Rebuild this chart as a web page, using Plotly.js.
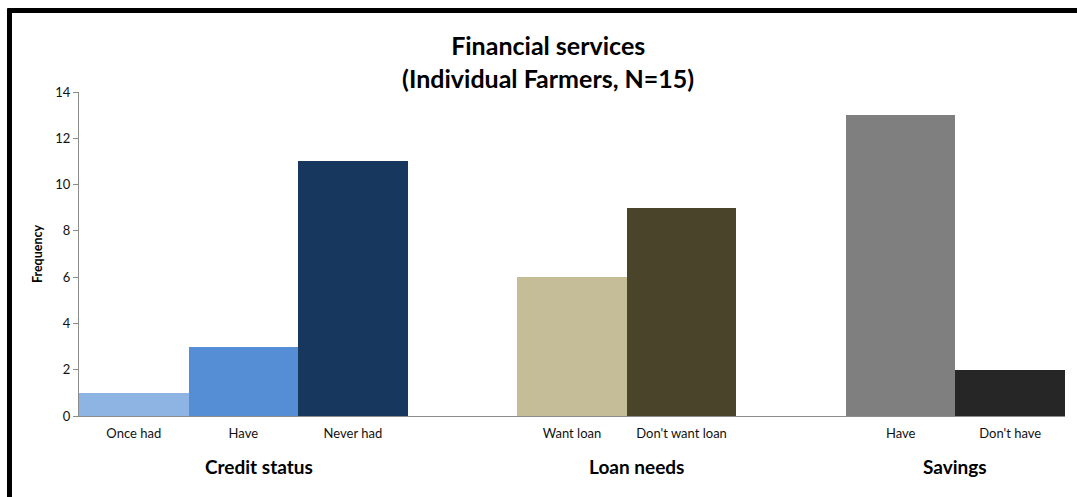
<!DOCTYPE html>
<html>
<head>
<meta charset="utf-8">
<script src="https://cdn.plot.ly/plotly-3.0.1.min.js"></script>
<style>
html,body{margin:0;padding:0;background:#fff;}
#chart{width:1077px;height:497px;}
</style>
</head>
<body>
<div id="chart"></div>
<script>
// ---- data ----
const groups = ["Credit status", "Loan needs", "Savings"];
const creditLabels = ["Once had", "Have", "Never had"];
const creditValues = [1, 3, 11];
const loanLabels = ["Want loan", "Don't want loan"];
const loanValues = [6, 9];
const savingsLabels = ["Have", "Don't have"];
const savingsValues = [13, 2];
const yTicks = [0, 2, 4, 6, 8, 10, 12, 14];

// ---- styling ----
const creditColors = ["#8EB4E3", "#558ED5", "#17375E"];
const loanColors = ["#C4BD97", "#4A452A"];
const savingsColors = ["#7F7F7F", "#262626"];
const groupShift = [0.14, 0.09, 0.0];

const groupData = [
  {labels: creditLabels, values: creditValues, colors: creditColors},
  {labels: loanLabels, values: loanValues, colors: loanColors},
  {labels: savingsLabels, values: savingsValues, colors: savingsColors}
];

const traces = [];
const tickvals = [], ticktext = [];
const annotations = [];
let pos = 0;
groupData.forEach((g, gi) => {
  const xs = g.labels.map((_, i) => pos + i);
  traces.push({
    type: 'bar',
    x: xs,
    y: g.values,
    width: 1,
    marker: {color: g.colors, line: {width: 0}},
    hoverinfo: 'y',
    showlegend: false
  });
  xs.forEach((x, i) => { tickvals.push(x); ticktext.push(g.labels[i]); });
  const center = (xs[0] + xs[xs.length - 1]) / 2 + groupShift[gi];
  annotations.push({
    xref: 'x', yref: 'paper', x: center, y: -0.155,
    text: '<b>' + groups[gi] + '</b>', showarrow: false,
    font: {family: 'Lato, "Open Sans", sans-serif', size: 19, color: '#000'},
    xanchor: 'center', yanchor: 'middle'
  });
  pos += g.labels.length + 1;
});

const layout = {
  width: 1077, height: 497,
  margin: {l: 79, r: 12, t: 92, b: 81},
  paper_bgcolor: '#fff', plot_bgcolor: '#fff',
  font: {family: 'Lato, "Open Sans", sans-serif', color: '#000'},
  title: {
    text: '<b>Financial services<br>(Individual Farmers, N=15)</b>',
    font: {family: 'Lato, "Open Sans", sans-serif', size: 25, color: '#000'},
    x: 0.509, xanchor: 'center', xref: 'container',
    y: 0.889, yanchor: 'middle', yref: 'container'
  },
  bargap: 0,
  xaxis: {
    range: [-0.5, pos - 1.5],
    tickmode: 'array', tickvals: tickvals, ticktext: ticktext,
    tickfont: {size: 13, color: '#111'},
    showgrid: false, zeroline: false,
    showline: true, linecolor: '#8C8C8C', linewidth: 1,
    ticks: '', ticklabelstandoff: 5,
    fixedrange: true
  },
  yaxis: {
    range: [0, 14],
    tickmode: 'array', tickvals: yTicks,
    tickfont: {size: 13, color: '#111'},
    showgrid: false, zeroline: false,
    showline: true, linecolor: '#8C8C8C', linewidth: 1,
    ticks: 'outside', ticklen: 5, tickcolor: '#8C8C8C',
    title: {text: '<b>Frequency</b>', font: {size: 12.5, color: '#000'}, standoff: 9},
    fixedrange: true
  },
  annotations: annotations,
  shapes: [
    {type: 'line', xref: 'paper', yref: 'paper', x0: -0.0725, x1: 1.05, y0: 1.2515, y1: 1.2515,
     line: {color: '#000', width: 5}},
    {type: 'line', xref: 'paper', yref: 'paper', x0: -0.0705, x1: -0.0705, y0: 1.258, y1: -0.3,
     line: {color: '#000', width: 5}}
  ]
};

Plotly.newPlot('chart', traces, layout, {displayModeBar: false, staticPlot: true});
</script>
</body>
</html>
